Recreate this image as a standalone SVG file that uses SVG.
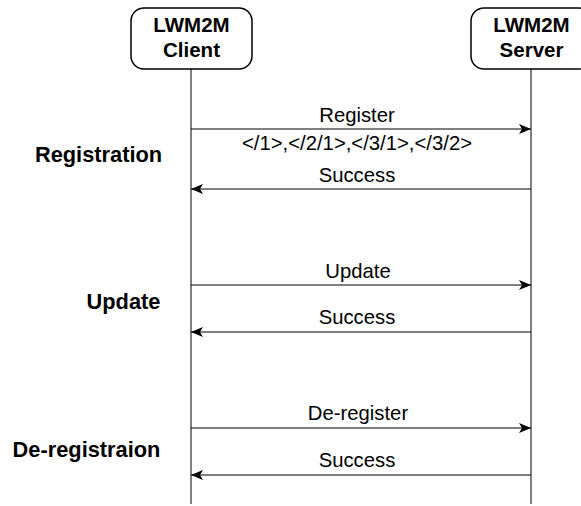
<svg xmlns="http://www.w3.org/2000/svg" width="581" height="506" viewBox="0 0 581 506">
<defs>
<style>
.box{fill:#fff;stroke:#000;stroke-width:1.5}
.life{stroke:#000;stroke-width:1;fill:none}
.msg{stroke:#000;stroke-width:1;fill:none}
.bt{font-family:"Liberation Sans",Arial,sans-serif;font-weight:bold;font-size:20.5px;fill:#000;text-anchor:middle}
.lt{font-family:"Liberation Sans",Arial,sans-serif;font-size:20.3px;fill:#000;text-anchor:middle}
.sec{font-family:"Liberation Sans",Arial,sans-serif;font-weight:bold;font-size:21.8px;fill:#000;text-anchor:middle}
</style>
<marker id="ah" viewBox="0 0 12 10" refX="12" refY="5" markerWidth="12" markerHeight="10" markerUnits="userSpaceOnUse" orient="auto">
<path d="M0,0 L12,5 L0,10 L3,5 Z" fill="#000"/>
</marker>
</defs>
<rect width="581" height="506" fill="#fff"/>
<g id="client">
<rect class="box" x="131" y="8" width="121" height="61" rx="13"/>
<text class="bt" x="191.5" y="31.5">LWM2M</text>
<text class="bt" x="191.5" y="56.5">Client</text>
</g>
<g id="server">
<rect class="box" x="471" y="8" width="121" height="61" rx="13"/>
<text class="bt" x="531.5" y="31.5">LWM2M</text>
<text class="bt" x="531.5" y="56.5">Server</text>
</g>
<g id="connectors">
<line class="life" x1="191" y1="69" x2="191" y2="504"/>
<line class="life" x1="531" y1="69" x2="531" y2="504"/>
<line class="msg" x1="191" y1="129" x2="531" y2="129" marker-end="url(#ah)"/>
<line class="msg" x1="531" y1="189" x2="191" y2="189" marker-end="url(#ah)"/>
<line class="msg" x1="191" y1="285" x2="531" y2="285" marker-end="url(#ah)"/>
<line class="msg" x1="531" y1="332" x2="191" y2="332" marker-end="url(#ah)"/>
<line class="msg" x1="191" y1="428" x2="531" y2="428" marker-end="url(#ah)"/>
<line class="msg" x1="531" y1="475" x2="191" y2="475" marker-end="url(#ah)"/>
</g>
<g id="labels">
<text class="lt" x="357" y="121.5">Register</text>
<text class="lt" x="357" y="150">&lt;/1&gt;,&lt;/2/1&gt;,&lt;/3/1&gt;,&lt;/3/2&gt;</text>
<text class="lt" x="357" y="181.5">Success</text>
<text class="lt" x="358" y="278">Update</text>
<text class="lt" x="357" y="324">Success</text>
<text class="lt" x="358" y="420">De-register</text>
<text class="lt" x="357" y="467">Success</text>
</g>
<g id="sections">
<text class="sec" x="98.5" y="161.5">Registration</text>
<text class="sec" x="123.5" y="309">Update</text>
<text class="sec" x="86.5" y="457">De-registraion</text>
</g>
</svg>
